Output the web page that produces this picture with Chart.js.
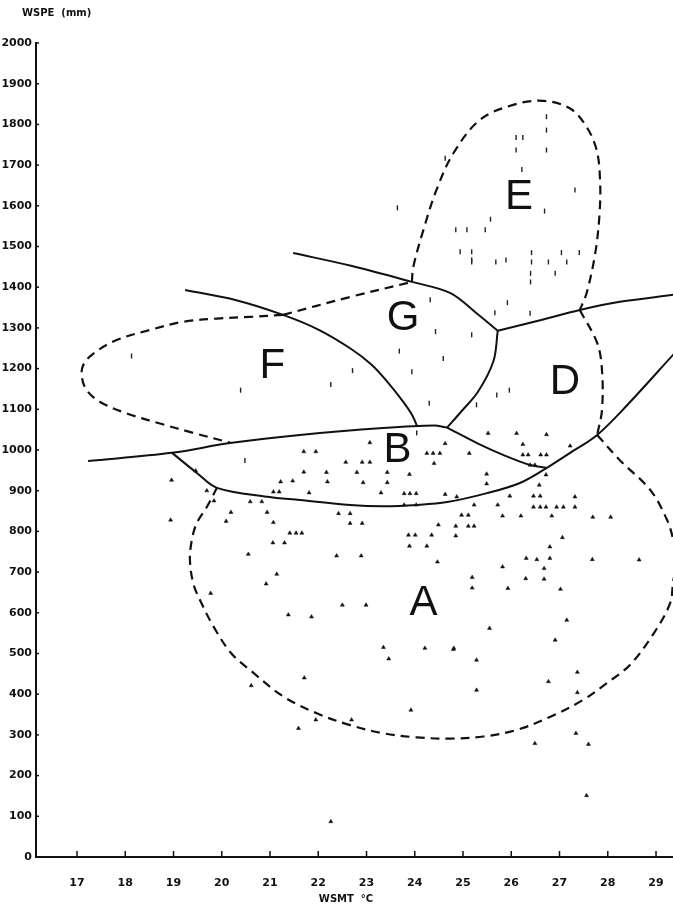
<!DOCTYPE html>
<html>
<head>
<meta charset="utf-8">
<title>WSPE vs WSMT</title>
<script src="https://cdn.jsdelivr.net/npm/chart.js@4.4.1/dist/chart.umd.min.js"></script>
<style>
  html, body { margin: 0; padding: 0; background: #fff; overflow: hidden; }
  #wrap { width: 673px; height: 913px; position: relative; }
  canvas { display: block; }
</style>
</head>
<body>
<div id="wrap"><canvas id="chart"></canvas></div>
<script>
// Axis ticks
var xTicks = [17, 18, 19, 20, 21, 22, 23, 24, 25, 26, 27, 28, 29];
var yTicks = [0, 100, 200, 300, 400, 500, 600, 700, 800, 900, 1000,
              1100, 1200, 1300, 1400, 1500, 1600, 1700, 1800, 1900, 2000];

// Region labels
var regionNames = ['A', 'B', 'D', 'E', 'F', 'G'];
var regionX = [24.18, 23.64, 27.11, 26.16, 21.05, 23.76];
var regionY = [622, 1000, 1166, 1620, 1206, 1324];

// Station points (triangles)
var triX = [18.96, 18.94, 19.46, 19.69, 19.84, 20.19, 20.09, 20.59, 20.83, 20.94, 21.07, 21.07,
            21.19, 21.22, 21.47, 21.41, 21.54, 21.66, 21.06, 21.30, 20.55, 21.14, 21.70, 21.95,
            21.70, 21.81, 22.17, 22.19, 22.57, 22.91, 23.07, 22.80, 23.07, 22.93, 23.30, 23.43,
            23.43, 22.42, 22.66, 22.66, 22.91, 22.38, 22.89, 23.78, 23.90, 24.03, 23.78, 24.03,
            23.89, 24.25, 24.38, 24.52, 24.40, 24.63, 24.63, 24.49, 23.87, 24.01, 24.35, 23.89,
            24.25, 24.47,
            25.52, 26.11, 26.73, 25.13, 26.24, 26.24, 26.35, 26.61, 26.73, 27.22, 26.39, 26.49,
            26.72, 26.58, 25.49, 25.49, 24.87, 25.97, 26.46, 26.60, 27.32, 26.46, 26.60, 26.72,
            26.94, 27.08, 27.32, 25.23, 25.72, 25.82, 26.20, 26.84, 27.69, 28.06, 24.97, 25.11,
            24.85, 25.11, 25.23, 24.85, 27.06, 26.80, 26.31, 26.53, 26.80, 27.68, 28.65, 25.82,
            26.68, 25.19, 25.19, 26.30, 26.68, 25.93, 27.02,
            27.15, 25.55, 26.91, 24.80, 25.28, 27.37, 26.77, 25.28, 27.37, 27.34, 26.49, 27.60,
            27.56,
            20.92, 19.77, 22.50, 22.99, 21.38, 21.86, 23.35, 23.46, 24.21, 24.81, 21.71, 20.61,
            23.92, 21.95, 22.69, 21.59, 22.26];
var triY = [926, 828, 949, 900, 875, 847, 825, 873, 873, 847, 822, 897,
            897, 922, 924, 796, 796, 796, 772, 772, 744, 695, 996, 996,
            946, 895, 945, 922, 970, 970, 970, 945, 1018, 920, 895, 945,
            920, 844, 844, 820, 820, 740, 740, 893, 893, 893, 865, 865,
            940, 992, 992, 992, 967, 1016, 891, 816, 791, 791, 791, 764,
            764, 725,
            1041, 1041, 1038, 992, 1014, 988, 988, 988, 988, 1010, 963, 963,
            939, 914, 941, 917, 885, 887, 887, 887, 885, 860, 860, 860,
            860, 860, 860, 865, 865, 838, 838, 838, 835, 835, 840, 840,
            813, 813, 813, 789, 785, 762, 734, 731, 734, 731, 730, 713,
            709, 687, 661, 684, 683, 660, 658,
            582, 562, 533, 510, 484, 454, 431, 410, 404, 304, 279, 277,
            151,
            671, 648, 619, 619, 595, 590, 515, 487, 513, 513, 440, 421,
            361, 337, 337, 316, 87];

// Faint marks (regions E, F, G, D)
var markX = [18.13, 20.39, 22.26, 22.71, 24.32, 24.43, 23.68, 23.94, 24.59, 24.30, 24.04, 25.18,
             25.70, 25.66, 25.18, 25.92, 26.39, 25.96, 26.40, 26.40, 26.91, 25.28, 20.48,
             24.63, 23.64, 26.10, 26.24, 26.10, 26.73, 26.73, 26.73, 26.22, 27.32, 26.69, 25.57,
             24.85, 25.08, 25.46, 24.94, 25.18, 25.18, 25.68, 25.89, 26.42, 26.42, 26.77, 27.04,
             27.15, 27.41];
var markY = [1231, 1147, 1161, 1195, 1369, 1291, 1243, 1192, 1225, 1115, 1042, 1283,
             1135, 1337, 1467, 1362, 1336, 1147, 1434, 1413, 1434, 1111, 974,
             1717, 1595, 1768, 1768, 1737, 1819, 1786, 1737, 1689, 1639, 1587, 1567,
             1541, 1541, 1541, 1487, 1487, 1462, 1462, 1467, 1485, 1462, 1462, 1485,
             1462, 1485];

// Solid boundaries
var bTopX = [17.23, 18.97, 20.17, 21.62, 23.34, 24.40, 24.67];
var bTopY = [973, 993, 1017, 1037, 1054, 1060, 1055];
var bRightX = [24.67, 25.29, 25.83, 26.39, 26.74];
var bRightY = [1055, 1017, 988, 963, 956];
var adX = [26.74, 27.22, 27.78, 28.40, 29.40];
var adY = [956, 993, 1037, 1110, 1240];
var bBotX = [18.97, 19.49, 19.90, 20.94, 21.62, 22.66, 23.34, 24.05, 24.67, 25.50, 26.18, 26.74];
var bBotY = [993, 943, 907, 885, 877, 865, 862, 865, 872, 894, 919, 956];
var fgX = [19.24, 20.30, 21.27, 22.00, 22.66, 23.10, 23.45, 23.75, 23.95, 24.05];
var fgY = [1393, 1368, 1332, 1296, 1250, 1210, 1165, 1120, 1085, 1058];
var gTopX = [21.48, 22.70, 23.94, 24.73, 25.28, 25.72];
var gTopY = [1484, 1452, 1413, 1386, 1336, 1293];
var gdX = [24.67, 24.96, 25.31, 25.63, 25.72];
var gdY = [1055, 1094, 1143, 1218, 1293];
var dTopX = [25.72, 26.60, 27.42, 28.25, 29.40];
var dTopY = [1293, 1319, 1344, 1364, 1382];

// Dashed boundaries
var fDashX = [21.27, 20.59, 19.90, 19.20, 18.51, 17.82, 17.34, 17.13, 17.10, 17.20, 17.48, 18.03, 18.72, 19.41, 20.17];
var fDashY = [1332, 1327, 1323, 1315, 1295, 1270, 1237, 1209, 1180, 1147, 1118, 1090, 1065, 1042, 1018];
var gDashX = [21.27, 22.66, 23.94];
var gDashY = [1332, 1376, 1413];
var eDashX = [23.94, 23.97, 24.18, 24.45, 24.80, 25.35, 26.04, 26.66, 27.22, 27.56, 27.77, 27.84, 27.83, 27.74, 27.56, 27.42];
var eDashY = [1413, 1450, 1541, 1639, 1729, 1811, 1848, 1858, 1839, 1794, 1737, 1663, 1581, 1483, 1385, 1344];
var dDashX = [27.42, 27.78, 27.88, 27.88, 27.78];
var dDashY = [1344, 1263, 1197, 1098, 1037];
var aDashX = [27.78, 28.25, 28.88, 29.23, 29.36, 29.45, 29.36, 29.29, 28.95, 28.46, 27.98, 27.49, 26.80, 26.11,
              25.42, 24.73, 24.04, 23.35, 22.66, 21.97, 21.28, 20.59, 20.20, 19.83, 19.55, 19.41, 19.34,
              19.38, 19.48, 19.69, 19.90];
var aDashY = [1037, 975, 902, 828, 779, 730, 681, 623, 549, 472, 427, 386, 344, 312,
              296, 291, 294, 304, 324, 353, 394, 459, 500, 566, 631, 672, 730,
              779, 820, 860, 907];

function toPoints(xs, ys) {
    return xs.map(function (x, i) { return { x: x, y: ys[i] }; });
}

var ink = '#111111';
var solidCurves = [[bTopX, bTopY], [bRightX, bRightY], [adX, adY], [bBotX, bBotY],
                   [fgX, fgY], [gTopX, gTopY], [gdX, gdY], [dTopX, dTopY]];
var dashedCurves = [[fDashX, fDashY], [gDashX, gDashY], [eDashX, eDashY],
                    [dDashX, dDashY], [aDashX, aDashY]];

var datasets = [];
solidCurves.forEach(function (c) {
    datasets.push({
        data: toPoints(c[0], c[1]),
        showLine: true, pointRadius: 0, borderColor: ink, borderWidth: 2,
        tension: 0.35, fill: false
    });
});
dashedCurves.forEach(function (c) {
    datasets.push({
        data: toPoints(c[0], c[1]),
        showLine: true, pointRadius: 0, borderColor: ink, borderWidth: 2.2,
        borderDash: [9, 6], tension: 0.35, fill: false
    });
});
datasets.push({
    data: toPoints(triX, triY),
    pointStyle: 'triangle', pointRadius: 2.3,
    backgroundColor: ink, borderColor: ink, borderWidth: 0.5
});
datasets.push({
    data: toPoints(markX, markY),
    pointStyle: 'line', rotation: 90, pointRadius: 2.5,
    borderColor: '#222', borderWidth: 1.4
});

// Region letters, axis titles and inward tick marks
var decorations = {
    id: 'decorations',
    afterDraw: function (chart) {
        var ctx = chart.ctx;
        var xs = chart.scales.x, ys = chart.scales.y, area = chart.chartArea;
        ctx.save();
        ctx.strokeStyle = ink;
        ctx.lineWidth = 1.5;
        xTicks.forEach(function (v) {
            var px = xs.getPixelForValue(v);
            ctx.beginPath(); ctx.moveTo(px, area.bottom); ctx.lineTo(px, area.bottom - 6); ctx.stroke();
        });
        yTicks.forEach(function (v) {
            var py = ys.getPixelForValue(v);
            ctx.beginPath(); ctx.moveTo(area.left, py); ctx.lineTo(area.left + 3, py); ctx.stroke();
        });

        ctx.fillStyle = ink;
        ctx.textAlign = 'center';
        ctx.textBaseline = 'middle';
        ctx.font = '42px "Liberation Sans", Arial, sans-serif';
        regionNames.forEach(function (name, i) {
            ctx.fillText(name, xs.getPixelForValue(regionX[i]), ys.getPixelForValue(regionY[i]));
        });

        ctx.font = 'bold 10px "DejaVu Sans", sans-serif';
        ctx.textAlign = 'left';
        ctx.fillText('WSPE  (mm)', 22, 13);
        ctx.textAlign = 'center';
        ctx.fillText('WSMT  °C', 346, 899);
        ctx.restore();
    }
};

new Chart(document.getElementById('chart'), {
    type: 'scatter',
    data: { datasets: datasets },
    options: {
        responsive: true,
        maintainAspectRatio: false,
        animation: false,
        layout: { autoPadding: false, padding: { top: 43, right: 0, bottom: 0, left: 0 } },
        plugins: {
            legend: { display: false },
            tooltip: { enabled: false }
        },
        scales: {
            x: {
                type: 'linear',
                min: 16.15,
                max: 29.352,
                afterBuildTicks: function (scale) {
                    scale.ticks = xTicks.map(function (v) { return { value: v }; });
                },
                afterFit: function (scale) {
                    scale.height = 56;
                    scale.paddingLeft = 0;
                    scale.paddingRight = 0;
                },
                grid: { display: false, drawTicks: false },
                border: { display: true, color: ink, width: 2 },
                ticks: {
                    color: ink,
                    padding: 20,
                    maxRotation: 0,
                    autoSkip: false,
                    callback: function (v) { return String(v); },
                    font: { family: '"DejaVu Sans", sans-serif', size: 11, weight: 'bold' }
                }
            },
            y: {
                type: 'linear',
                min: 0,
                max: 2000,
                afterBuildTicks: function (scale) {
                    scale.ticks = yTicks.map(function (v) { return { value: v }; });
                },
                afterFit: function (scale) {
                    scale.width = 36;
                    scale.paddingTop = 0;
                    scale.paddingBottom = 0;
                },
                grid: { display: false, drawTicks: false },
                border: { display: true, color: ink, width: 2 },
                ticks: {
                    color: ink,
                    padding: 4,
                    autoSkip: false,
                    callback: function (v) { return String(v); },
                    font: { family: '"DejaVu Sans", sans-serif', size: 11, weight: 'bold' }
                }
            }
        }
    },
    plugins: [decorations]
});
</script>
</body>
</html>
